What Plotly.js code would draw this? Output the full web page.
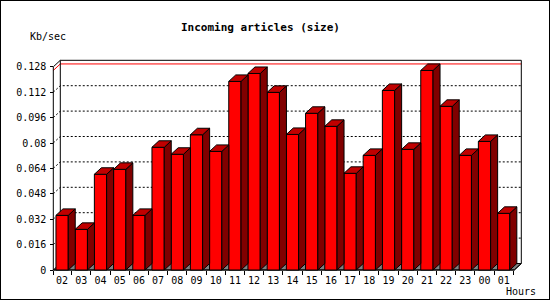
<!DOCTYPE html>
<html>
<head>
<meta charset="utf-8">
<script src="https://cdn.plot.ly/plotly-3.0.1.min.js"></script>
<style>
  html, body { margin: 0; padding: 0; background: #fff; }
  #wrap { position: relative; width: 550px; height: 300px; }
  #chart { width: 550px; height: 300px; }
  #border { position: absolute; left: 0; top: 0; width: 550px; height: 300px;
            box-sizing: border-box; border: 1px solid #000; pointer-events: none; }
</style>
</head>
<body>
<div id="wrap"><div id="chart"></div><div id="border"></div></div>
<script>
// ---- data ----
const hours = ['02','03','04','05','06','07','08','09','10','11','12','13',
               '14','15','16','17','18','19','20','21','22','23','00','01'];
const kbPerSec = [0.0344, 0.0256, 0.0603, 0.0634, 0.0344, 0.0773, 0.0729, 0.0852,
                  0.0747, 0.1188, 0.1238, 0.1119, 0.0854, 0.0987, 0.0905, 0.0609,
                  0.0722, 0.1131, 0.0760, 0.1257, 0.1031, 0.0722, 0.0810, 0.0357];
const yTickVals = [0, 0.016, 0.032, 0.048, 0.064, 0.08, 0.096, 0.112, 0.128];
const yTickText = ['0','0.016','0.032','0.048','0.064','0.08','0.096','0.112','0.128'];

// ---- geometry (pixels -> axis units) ----
const M = {l: 52, r: 28, t: 59, b: 29};
const PW = 550 - M.l - M.r, PH = 300 - M.t - M.b;
const PXX = 19.2, PXY = 1587.5;   // px per category / px per unit
const C0 = 62.1, ZERO_Y = 270, AXIS_X = 53.3;
const xmin = (M.l - C0) / PXX, xmax = xmin + PW / PXX;
const ymin = -(M.t + PH - ZERO_Y) / PXY, ymax = ymin + PH / PXY;
const DX = 7 / PXX, DY = 6.5 / PXY;
const XL = (AXIS_X - C0) / PXX, XR = XL + 461 / PXX;
const YTOP = yTickVals[yTickVals.length - 1];
const HW = 0.32;
const idx = hours.map((h, i) => i);
const maxV = Math.max(...kbPerSec);

const px = p => (p - M.l) / PW;
const py = p => (M.t + PH - p) / PH;

// ---- background shapes ----
const shapes = [];
shapes.push({type: 'path', xref: 'x', yref: 'y', layer: 'below',
  path: `M${XL},0 L${XR},0 L${XR+DX},${DY} L${XL+DX},${DY} Z`,
  fillcolor: '#808080', line: {color: '#000', width: 1}});
yTickVals.filter(v => v > 0 && v < YTOP).forEach(v => {
  shapes.push({type: 'path', xref: 'x', yref: 'y', layer: 'below',
    path: `M${XL},${v} L${XL+DX},${v+DY} L${XR+DX},${v+DY}`,
    line: {color: '#000', width: 1, dash: '2px,2px'}});
});
shapes.push({type: 'path', xref: 'x', yref: 'y', layer: 'below',
  path: `M${XL},${maxV} L${XL+DX},${maxV+DY} L${XR+DX},${maxV+DY}`,
  line: {color: '#ff0000', width: 1}});
shapes.push({type: 'path', xref: 'x', yref: 'y', layer: 'below',
  path: `M${XL},0 L${XL},${YTOP} L${XL+DX},${YTOP+DY} L${XR+DX},${YTOP+DY} L${XR+DX},${DY} L${XR},0 Z`,
  line: {color: '#000', width: 1}});
shapes.push({type: 'path', xref: 'x', yref: 'y', layer: 'below',
  path: `M${XL+DX},${DY} L${XL+DX},${YTOP+DY}`,
  line: {color: '#000', width: 1}});

// ---- 3D faces ----
const sideX = [], sideY = [], topX = [], topY = [];
kbPerSec.forEach((v, i) => {
  const r = i + HW, l = i - HW;
  sideX.push(r, r + DX, r + DX, r, r, null);
  sideY.push(0, DY, v + DY, v, 0, null);
  topX.push(l, l + DX, r + DX, r, l, null);
  topY.push(v, v + DY, v + DY, v, v, null);
});

const traces = [
  {type: 'bar', x: idx, y: kbPerSec, width: 2 * HW,
   marker: {color: '#ff0000', line: {color: '#000', width: 1}}, hoverinfo: 'skip'},
  {type: 'scatter', mode: 'lines', x: sideX, y: sideY, fill: 'toself',
   fillcolor: '#800000', line: {color: '#000', width: 1}, hoverinfo: 'skip'},
  {type: 'scatter', mode: 'lines', x: topX, y: topY, fill: 'toself',
   fillcolor: '#c00000', line: {color: '#000', width: 1}, hoverinfo: 'skip'}
];

const mono = 'DejaVu Sans Mono, monospace';
const layout = {
  width: 550, height: 300, margin: M,
  paper_bgcolor: '#fff', plot_bgcolor: 'rgba(0,0,0,0)',
  showlegend: false, bargap: 0,
  xaxis: {range: [xmin, xmax], tickmode: 'array', tickvals: idx, ticktext: hours,
          ticks: '', showgrid: false, zeroline: false, showline: false,
          anchor: 'free', position: (M.t + PH - ZERO_Y) / PH,
          ticklabelstandoff: 3,
          tickfont: {family: mono, size: 10, color: '#000'},
          minor: {ticks: 'outside', ticklen: 4, tickwidth: 1, tickcolor: '#000',
                  tickmode: 'array', tickvals: [XL].concat(idx.map(i => i + 0.5)),
                  showgrid: false}},
  yaxis: {range: [ymin, ymax], tickmode: 'array', tickvals: yTickVals, ticktext: yTickText,
          ticks: 'outside', ticklen: 3, tickwidth: 1, tickcolor: '#000',
          showgrid: false, zeroline: false, showline: false,
          anchor: 'free', position: (AXIS_X - M.l) / PW,
          ticklabelstandoff: 2,
          tickfont: {family: mono, size: 10, color: '#000'}},
  shapes: shapes,
  annotations: [
    {text: '<b>Incoming articles (size)</b>', xref: 'paper', yref: 'paper',
     x: px(260), y: py(27), xanchor: 'center', yanchor: 'middle', showarrow: false,
     font: {family: mono, size: 11, color: '#000'}},
    {text: 'Kb/sec', xref: 'paper', yref: 'paper', x: px(28), y: py(37),
     xanchor: 'left', yanchor: 'middle', showarrow: false,
     font: {family: mono, size: 10, color: '#000'}},
    {text: 'Hours', xref: 'paper', yref: 'paper', x: px(504), y: py(291),
     xanchor: 'left', yanchor: 'middle', showarrow: false,
     font: {family: mono, size: 10, color: '#000'}}
  ]
};
Plotly.newPlot('chart', traces, layout, {displayModeBar: false, staticPlot: true});
</script>
</body>
</html>
